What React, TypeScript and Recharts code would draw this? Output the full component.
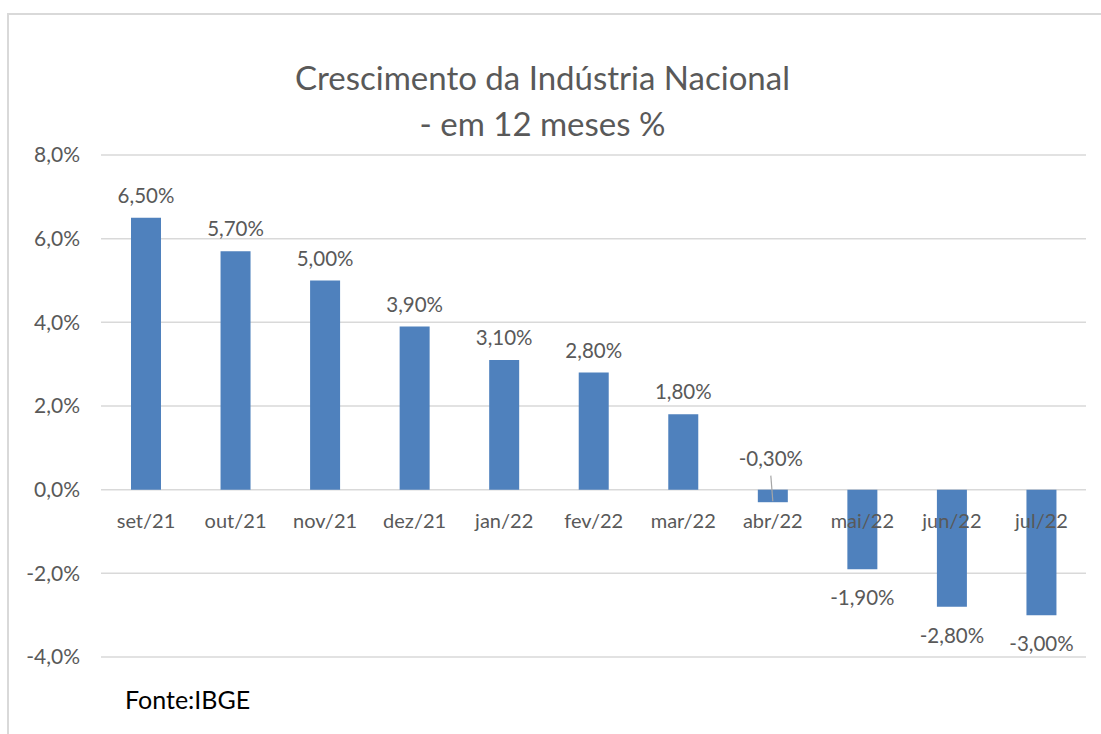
import { BarChart, Bar, XAxis, YAxis, CartesianGrid, LabelList } from 'recharts'

const months = ['set/21', 'out/21', 'nov/21', 'dez/21', 'jan/22', 'fev/22', 'mar/22', 'abr/22', 'mai/22', 'jun/22', 'jul/22']
const growth = [6.5, 5.7, 5.0, 3.9, 3.1, 2.8, 1.8, -0.3, -1.9, -2.8, -3.0]
const yTicks = [-4, -2, 0, 2, 4, 6, 8]

const data = months.map((month, i) => ({ month, value: growth[i] }))

const FONT = 'Lato, "Open Sans", sans-serif'
const TEXT = '#595959'

const fmtPct = (v: number, digits: number) => v.toFixed(digits).replace('.', ',') + '%'

function ValueLabel(props: any) {
  const { x, y, width, height, value } = props
  const top = Math.min(y, y + height)
  const bottom = Math.max(y, y + height)
  const cx = x + width / 2
  const text = fmtPct(Number(value), 2)
  if (value >= 0) {
    return (
      <text x={cx} y={top - 23} textAnchor="middle" dominantBaseline="central" fill={TEXT} fontSize={20.5} fontFamily={FONT}>
        {text}
      </text>
    )
  }
  if (value > -1) {
    // small negative bar: label sits above the zero line with a leader line
    return (
      <g>
        <line x1={cx - 2} y1={top - 14} x2={cx} y2={bottom - 1} stroke="#a6a6a6" strokeWidth={1.2} />
        <text x={cx - 2} y={top - 32} textAnchor="middle" dominantBaseline="central" fill={TEXT} fontSize={20.5} fontFamily={FONT}>
          {text}
        </text>
      </g>
    )
  }
  return (
    <text x={cx} y={bottom + 28} textAnchor="middle" dominantBaseline="central" fill={TEXT} fontSize={20.5} fontFamily={FONT}>
      {text}
    </text>
  )
}

function MonthLabel(props: any) {
  const { x, y, width, height, value, index } = props
  const zero = growth[index] >= 0 ? Math.max(y, y + height) : Math.min(y, y + height)
  return (
    <text x={x + width / 2} y={zero + 30} textAnchor="middle" dominantBaseline="central" fill={TEXT} fontSize={20} fontFamily={FONT}>
      {value}
    </text>
  )
}

export default function App() {
  return (
    <div style={{ position: 'absolute', left: 0, top: 0, width: 1101, height: 734, background: '#fff', overflow: 'hidden' }}>
      <div
        style={{
          position: 'absolute',
          left: 7,
          top: 13,
          width: 1101,
          height: 734,
          borderLeft: '2px solid #d9d9d9',
          borderTop: '2px solid #d9d9d9',
        }}
      />
      <div
        style={{
          position: 'absolute',
          left: 0,
          top: 54,
          width: 1085,
          textAlign: 'center',
          fontFamily: FONT,
          fontSize: 33,
          lineHeight: '46px',
          color: TEXT,
        }}
      >
        Crescimento da Indústria Nacional
        <br />- em 12 meses %
      </div>
      <div
        style={{
          position: 'absolute',
          left: 125,
          top: 684,
          fontFamily: FONT,
          fontSize: 25,
          color: '#000',
        }}
      >
        Fonte:IBGE
      </div>
      <BarChart
        width={1101}
        height={734}
        data={data}
        margin={{ top: 155, right: 15, bottom: 77, left: 11 }}
        barCategoryGap={0}
      >
        <CartesianGrid vertical={false} stroke="#d9d9d9" strokeWidth={1.5} />
        <XAxis dataKey="month" hide />
        <YAxis
          width={90}
          domain={[-4, 8]}
          ticks={yTicks}
          axisLine={false}
          tickLine={false}
          tickSize={0}
          tickMargin={21}
          tickFormatter={(v: number) => fmtPct(v, 1)}
          tick={{ fill: TEXT, fontSize: 21, fontFamily: FONT }}
        />
        <Bar dataKey="value" fill="#4f81bd" barSize={30} isAnimationActive={false}>
          <LabelList dataKey="value" content={ValueLabel} />
          <LabelList dataKey="month" content={MonthLabel} />
        </Bar>
      </BarChart>
    </div>
  )
}
